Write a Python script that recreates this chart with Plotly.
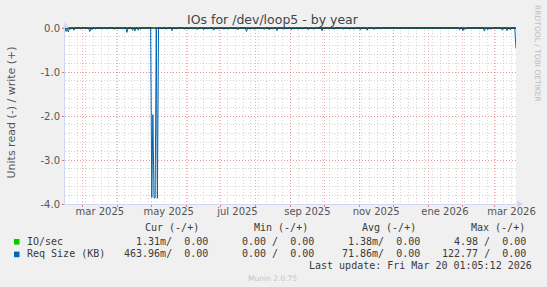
import plotly.graph_objects as go

# ---------------- data ----------------
x_range = ["2025-02-13 01:05:12", "2026-03-20 01:05:12"]
y_range = [-4.0, 0.0]

month_starts = ["2025-03-01", "2025-04-01", "2025-05-01", "2025-06-01", "2025-07-01",
                "2025-08-01", "2025-09-01", "2025-10-01", "2025-11-01", "2025-12-01",
                "2026-01-01", "2026-02-01", "2026-03-01"]
label_positions = ["2025-03-16", "2025-05-16", "2025-07-16", "2025-09-16",
                   "2025-11-16", "2026-01-16", "2026-03-16"]
label_text = ["mar 2025", "may 2025", "jul 2025", "sep 2025", "nov 2025", "ene 2026", "mar 2026"]
y_ticks = [-4.0, -3.0, -2.0, -1.0, 0.0]
y_ticktext = ["-4.0", "-3.0", "-2.0", "-1.0", "0.0"]

# Req Size (KB), read side (drawn negative)
req_dates = [
    "2025-02-13", "2025-02-14", "2025-02-15", "2025-02-16", "2025-02-17", "2025-02-18", "2025-02-19",
    "2025-02-20", "2025-02-21", "2025-02-22", "2025-02-26", "2025-02-27", "2025-02-28",
    "2025-03-06", "2025-03-07", "2025-03-08", "2025-03-09", "2025-03-10", "2025-03-11", "2025-03-12",
    "2025-03-13", "2025-03-17", "2025-03-18", "2025-03-19", "2025-03-21", "2025-03-22", "2025-03-23",
    "2025-03-28", "2025-03-29", "2025-03-30", "2025-03-31",
    "2025-04-01", "2025-04-02", "2025-04-04", "2025-04-05", "2025-04-06", "2025-04-08", "2025-04-09",
    "2025-04-10", "2025-04-13", "2025-04-14", "2025-04-15", "2025-04-16", "2025-04-17", "2025-04-18",
    "2025-04-19", "2025-04-20", "2025-04-21", "2025-04-22", "2025-04-30",
    "2025-05-01", "2025-05-02", "2025-05-03", "2025-05-04", "2025-05-05", "2025-05-06", "2025-05-07",
    "2025-05-09", "2025-05-10", "2025-05-11", "2025-05-13", "2025-05-14", "2025-05-15", "2025-05-18",
    "2025-05-19", "2025-05-20", "2025-05-23", "2025-05-24", "2025-05-29", "2025-05-30", "2025-05-31",
    "2025-06-03", "2025-06-04", "2025-06-06", "2025-06-07", "2025-06-08", "2025-06-11", "2025-06-12",
    "2025-06-15", "2025-06-16", "2025-06-17", "2025-06-20", "2025-06-21", "2025-06-24", "2025-06-25",
    "2025-06-26", "2025-06-29", "2025-06-30",
    "2025-07-03", "2025-07-04", "2025-07-05", "2025-07-08", "2025-07-09", "2025-07-11", "2025-07-12",
    "2025-07-13", "2025-07-17", "2025-07-18", "2025-07-23", "2025-07-24", "2025-07-25", "2025-07-28",
    "2025-07-29", "2025-07-30", "2025-07-31",
    "2025-08-01", "2025-08-05", "2025-08-06", "2025-08-07", "2025-08-09", "2025-08-10", "2025-08-12",
    "2025-08-13", "2025-08-14", "2025-08-16", "2025-08-17", "2025-08-19", "2025-08-20", "2025-08-21",
    "2025-08-25", "2025-08-26", "2025-08-27", "2025-08-29", "2025-08-30",
    "2025-09-01", "2025-09-02", "2025-09-03", "2025-09-05", "2025-09-06", "2025-09-07", "2025-09-08",
    "2025-09-09", "2025-09-12", "2025-09-13", "2025-09-16", "2025-09-17", "2025-09-18", "2025-09-22",
    "2025-09-23", "2025-09-28", "2025-09-29", "2025-09-30",
    "2025-10-04", "2025-10-05", "2025-10-06", "2025-10-10", "2025-10-11", "2025-10-17", "2025-10-18",
    "2025-10-19", "2025-10-24", "2025-10-25", "2025-10-28", "2025-10-29",
    "2025-11-01", "2025-11-02", "2025-11-03", "2025-11-07", "2025-11-08", "2025-11-09", "2025-11-13",
    "2025-11-14", "2025-11-15", "2025-11-19", "2025-11-20", "2025-11-21",
    "2026-01-28", "2026-01-29", "2026-01-30", "2026-01-31",
    "2026-02-01", "2026-02-02", "2026-02-03", "2026-02-04", "2026-02-19", "2026-02-20", "2026-02-21",
    "2026-02-22", "2026-02-23", "2026-02-24", "2026-02-25", "2026-02-26", "2026-02-27",
    "2026-03-07", "2026-03-08", "2026-03-09", "2026-03-11", "2026-03-12", "2026-03-13", "2026-03-14",
    "2026-03-15", "2026-03-16", "2026-03-18", "2026-03-19", "2026-03-20 00:00",
]
req_read_kb = [
    0, -0.08, -0.02, -0.09, 0, -0.03, 0,
    0, -0.05, 0, 0, -0.02, 0,
    0, -0.08, 0, -0.04, 0, 0, -0.02,
    0, 0, -0.02, 0, 0, -0.02, 0,
    0, -0.03, 0, 0,
    -0.02, 0, 0, -0.02, 0, 0, -0.10,
    0, 0, -0.05, 0, -0.07, 0, 0,
    -0.05, 0, -0.02, 0, 0,
    -3.85, -1.97, -3.86, -3.86, 0, -3.87, 0,
    0, -0.02, 0, 0, -0.03, 0, 0,
    -0.06, 0, -0.02, 0, 0, -0.03, 0,
    -0.02, 0, 0, -0.02, 0, -0.03, 0,
    0, -0.04, 0, -0.02, 0, 0, -0.05,
    0, -0.02, 0,
    0, -0.03, 0, -0.02, 0, 0, -0.02,
    0, -0.03, 0, 0, -0.08, 0, -0.02,
    0, 0, -0.03,
    0, 0, -0.02, 0, -0.03, 0, 0,
    -0.04, 0, -0.02, 0, 0, -0.06, 0,
    0, -0.03, 0, -0.02, 0,
    0, -0.04, 0, -0.02, 0, 0, -0.03,
    0, -0.02, 0, 0, -0.04, 0, -0.02,
    0, 0, -0.06, 0,
    0, -0.02, 0, -0.02, 0, 0, -0.03,
    0, -0.02, 0, -0.02, 0,
    0, -0.04, 0, 0, -0.05, 0, 0,
    -0.03, 0, 0, -0.02, 0,
    0, -0.04, 0, 0,
    -0.06, 0, -0.03, 0, 0, -0.07, 0,
    0, -0.04, 0, 0, -0.03, 0,
    0, -0.05, 0, 0, -0.06, 0, 0,
    -0.04, 0, 0, 0, -0.464,
]

# IO/sec, read side (drawn negative)
io_dates = ["2025-02-13", "2026-02-02", "2026-02-03", "2026-02-04", "2026-03-20 00:00"]
io_read = [0, 0, -0.02, 0, 0]

# zero rule
zero_x = x_range
zero_y = [0.0, 0.0]

legend_headers = ["Cur (-/+)", "Min (-/+)", "Avg (-/+)", "Max (-/+)"]
legend_names = ["IO/sec", "Req Size (KB)"]
legend_values = [
    ["1.31m/  0.00", "0.00 /  0.00", "1.38m/  0.00", "4.98 /  0.00"],
    ["463.96m/  0.00", "0.00 /  0.00", "71.86m/  0.00", "122.77 /  0.00"],
]
series_colors = ["#00CC00", "#0066B3"]
last_update = "Last update: Fri Mar 20 01:05:12 2026"

# ---------------- layout geometry ----------------
W, H = 547, 287
ML, MR, MT, MB = 65, 31, 27, 83
PW, PH = W - ML - MR, H - MT - MB
px_per_unit = 176 / 4.0
y_top = 1.0 / px_per_unit  # one pixel of headroom above zero


def px(x):
    return (x - ML) / PW


def py(y):
    return (H - MB - y) / PH


FONT = "DejaVu Sans"
MONO = "DejaVu Sans Mono"
TXT = "#555555"
LEG = "#3a3a3a"

fig = go.Figure()
fig.add_trace(go.Scatter(x=io_dates, y=io_read, mode="lines",
                         line=dict(color=series_colors[0], width=1), hoverinfo="skip"))
fig.add_trace(go.Scatter(x=req_dates, y=req_read_kb, mode="lines",
                         line=dict(color=series_colors[1], width=1), hoverinfo="skip"))
fig.add_trace(go.Scatter(x=zero_x, y=zero_y, mode="lines", xaxis="x2",
                         line=dict(color="#000000", width=1), hoverinfo="skip"))

grid_major = "rgba(240,90,90,0.5)"
grid_minor = "rgba(150,150,150,0.4)"

fig.update_layout(
    width=W, height=H,
    margin=dict(l=ML, r=MR, t=MT, b=MB, pad=0),
    paper_bgcolor="#F0F0F0", plot_bgcolor="#FFFFFF",
    showlegend=False,
    xaxis=dict(
        type="date", range=x_range,
        tickmode="array", tickvals=month_starts, ticktext=[""] * len(month_starts),
        showgrid=True, gridcolor=grid_major, griddash="1px,2px", gridwidth=1,
        ticks="outside", ticklen=2, tickcolor="rgba(240,90,90,0.8)",
        minor=dict(tickmode="linear", tick0="2025-02-17", dtick=7 * 86400000,
                   showgrid=True, gridcolor=grid_minor, griddash="1px,2px", ticks=""),
        showline=True, linecolor="#CFD6F8", linewidth=1,
        zeroline=False, fixedrange=True,
    ),
    xaxis2=dict(
        type="date", range=x_range, overlaying="x", anchor="y", side="bottom",
        tickmode="array", tickvals=label_positions, ticktext=label_text,
        showgrid=False, ticks="", showline=False, zeroline=False,
        tickfont=dict(family=FONT, size=10, color=TXT),
    ),
    yaxis=dict(
        range=[y_range[0], y_range[1] + y_top],
        tickmode="array", tickvals=y_ticks, ticktext=y_ticktext,
        showgrid=True, gridcolor=grid_major, griddash="1px,2px", gridwidth=1,
        ticks="outside", ticklen=2, tickcolor="rgba(240,90,90,0.8)",
        minor=dict(tickmode="linear", tick0=0, dtick=0.2, showgrid=True,
                   gridcolor=grid_minor, griddash="1px,2px", ticks=""),
        showline=True, linecolor="#CFD6F8", linewidth=1,
        zeroline=False,
        tickfont=dict(family=FONT, size=10, color=TXT),
    ),
)

ann = []
# title
ann.append(dict(text="IOs for /dev/loop5 - by year", x=px(273), y=py(19.5), xref="paper", yref="paper",
                xanchor="center", yanchor="middle", showarrow=False,
                font=dict(family=FONT, size=12.5, color="#444444")))
# y title
ann.append(dict(text="Units read (-) / write (+)", x=px(11), y=py(112.5), xref="paper", yref="paper",
                xanchor="center", yanchor="middle", showarrow=False, textangle=-90,
                font=dict(family=FONT, size=11, color=TXT)))
# watermark
ann.append(dict(text="RRDTOOL / TOBI OETIKER", x=px(537.5), y=py(53.6), xref="paper", yref="paper",
                xanchor="center", yanchor="middle", showarrow=False, textangle=90,
                font=dict(family=FONT, size=7.5, color="#BBBBBB")))
# legend header
header_right = [200, 308.7, 416.8, 525.6]
for t, xr in zip(legend_headers, header_right):
    ann.append(dict(text=t.replace(" ", "&nbsp;"), x=px(xr), y=py(227.3), xref="paper", yref="paper",
                    xanchor="right", yanchor="middle", showarrow=False, borderpad=0,
                    font=dict(family=MONO, size=10, color=LEG)))
row_y = [241.0, 253.6]
value_right = [209.3, 315, 421, 526.7]
for i in range(2):
    ann.append(dict(text=legend_names[i].replace(" ", "&nbsp;"), x=px(26.2), y=py(row_y[i]),
                    xref="paper", yref="paper", xanchor="left", yanchor="middle",
                    showarrow=False, borderpad=0,
                    font=dict(family=MONO, size=10, color=LEG)))
    for v, xr in zip(legend_values[i], value_right):
        ann.append(dict(text=v.replace(" ", "&nbsp;"), x=px(xr), y=py(row_y[i]),
                        xref="paper", yref="paper", xanchor="right", yanchor="middle",
                        showarrow=False, borderpad=0,
                        font=dict(family=MONO, size=10, color=LEG)))
ann.append(dict(text=last_update.replace(" ", "&nbsp;"), x=px(532.6), y=py(265.5),
                xref="paper", yref="paper", xanchor="right", yanchor="middle",
                showarrow=False, borderpad=0, font=dict(family=MONO, size=10, color=LEG)))
ann.append(dict(text="Munin 2.0.75", x=px(272.8), y=py(278.5), xref="paper", yref="paper",
                xanchor="center", yanchor="middle", showarrow=False,
                font=dict(family=FONT, size=7.5, color="#C4C4C4")))
fig.update_layout(annotations=ann)

shapes = []
# legend colour boxes
for i in range(2):
    cy = row_y[i] + 0.8
    shapes.append(dict(type="rect", xref="paper", yref="paper",
                       x0=px(14), x1=px(19.5), y0=py(cy - 2.8), y1=py(cy + 2.8),
                       fillcolor=series_colors[i], line=dict(width=0)))
# axis arrows
shapes.append(dict(type="path", xref="paper", yref="paper",
                   path=f"M {px(62.5)},{py(28)} L {px(68.5)},{py(28)} L {px(65.5)},{py(21.5)} Z",
                   fillcolor="#CFD6F8", line=dict(width=0)))
shapes.append(dict(type="path", xref="paper", yref="paper",
                   path=f"M {px(517)},{py(200.5)} L {px(517)},{py(207.5)} L {px(523.5)},{py(204)} Z",
                   fillcolor="#CFD6F8", line=dict(width=0)))
fig.update_layout(shapes=shapes)

fig.write_html("out.html")
